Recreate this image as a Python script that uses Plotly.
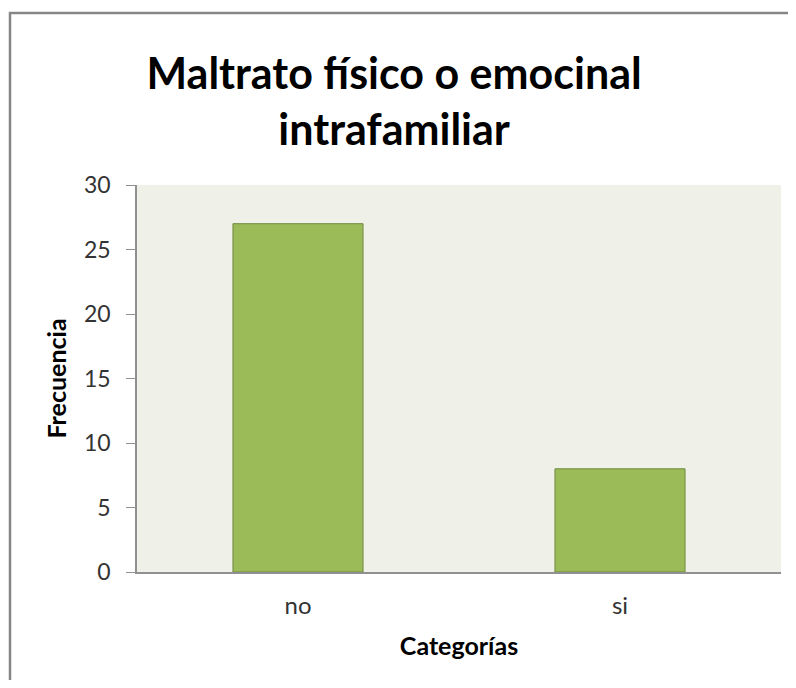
import plotly.graph_objects as go

categories = ["no", "si"]
frecuencia = [27, 8]
y_ticks = [0, 5, 10, 15, 20, 25, 30]

title_text = "Maltrato físico o emocinal<br>intrafamiliar"
x_title = "Categorías"
y_title = "Frecuencia"

# figure is 780x672; the page adds an 8px body margin on each side
W, H = 780, 672
L, R, T, B = 129, 7, 177, 108
pw, ph = W - L - R, H - T - B

def px_to_paper_x(px):
    return (px - L) / pw

def px_to_paper_y(py):
    return (H - B - py) / ph

fig = go.Figure()
fig.add_trace(go.Bar(
    x=categories, y=frecuencia,
    width=0.404,
    marker=dict(color="#9BBB59", line=dict(color="#71893F", width=1)),
))

font_family = "Lato, 'Open Sans', sans-serif"

fig.update_layout(
    width=W, height=H,
    margin=dict(l=L, r=R, t=T, b=B, autoexpand=False),
    paper_bgcolor="white",
    plot_bgcolor="#EFF1E9",
    showlegend=False,
    font=dict(family=font_family, color="#333333"),
    title=dict(
        text=title_text,
        x=0.495, xanchor="center", xref="container",
        y=1 - 81 / H, yanchor="top", yref="container",
        font=dict(family=font_family, size=43, color="black", weight="bold"),
    ),
    xaxis=dict(
        showline=True, linecolor="#909090", linewidth=1.5,
        ticks="", showgrid=False,
        tickfont=dict(size=24, color="#333333"),
        ticklabelstandoff=11,
        title=dict(text=x_title, font=dict(size=25, color="black", weight="bold"), standoff=20),
    ),
    yaxis=dict(
        range=[0, 30], tickvals=y_ticks,
        showline=True, linecolor="#909090", linewidth=1.5,
        ticks="outside", ticklen=9, tickcolor="#909090",
        showgrid=False, zeroline=False,
        tickfont=dict(size=23, color="#333333"),
        ticklabelstandoff=11,
        title=dict(text=y_title, font=dict(size=25, color="black", weight="bold"), standoff=10),
    ),
    shapes=[dict(
        type="rect", xref="paper", yref="paper",
        x0=px_to_paper_x(2), y0=px_to_paper_y(700),
        x1=px_to_paper_x(810), y1=px_to_paper_y(5),
        line=dict(color="#868686", width=2.5), fillcolor="rgba(0,0,0,0)", layer="above",
    )],
)

fig.write_html("out.html")
